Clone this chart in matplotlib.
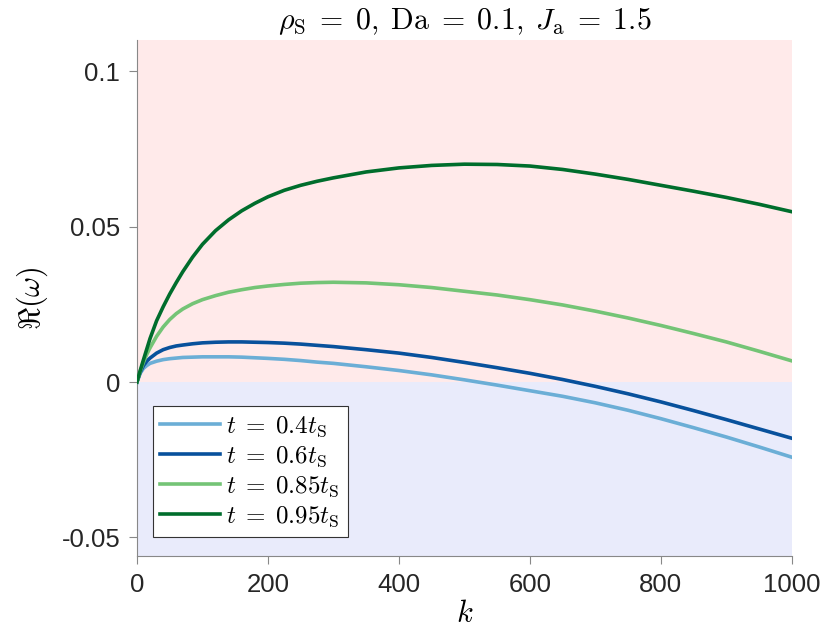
import numpy as np
import matplotlib
matplotlib.use('Agg')
import matplotlib.pyplot as plt

plt.rcParams['font.family'] = ['Liberation Sans', 'DejaVu Sans']
plt.rcParams['mathtext.fontset'] = 'cm'

k = [0, 5, 10, 15, 20, 30, 40, 50, 60, 70, 85, 100, 120, 140, 160, 180, 200,
     225, 250, 275, 300, 350, 400, 450, 500, 550, 600, 650, 700, 750, 800,
     850, 900, 950, 1000]

w_040 = [0, 0.0028, 0.0044, 0.0053, 0.0060, 0.0067, 0.0072, 0.0075, 0.0077, 0.0079,
         0.0080, 0.0081, 0.0081, 0.0081, 0.0080, 0.0078, 0.0076, 0.0073, 0.0069,
         0.0064, 0.0060, 0.0049, 0.0037, 0.0023, 0.0007, -0.0010, -0.0028,
         -0.0046, -0.0067, -0.0091, -0.0118, -0.0147, -0.0177, -0.0209, -0.0242]
w_060 = [0, 0.0031, 0.0053, 0.0067, 0.0077, 0.0093, 0.0104, 0.0111, 0.0116, 0.0119,
         0.0123, 0.0126, 0.0128, 0.0129, 0.0129, 0.0128, 0.0127, 0.0125, 0.0122,
         0.0118, 0.0114, 0.0104, 0.0093, 0.0079, 0.0063, 0.0046, 0.0028,
         0.0008, -0.0014, -0.0038, -0.0064, -0.0092, -0.0121, -0.0151, -0.0181]
w_085 = [0, 0.0035, 0.0064, 0.0089, 0.0110, 0.0147, 0.0177, 0.0201, 0.0220, 0.0235,
         0.0252, 0.0265, 0.0278, 0.0289, 0.0297, 0.0304, 0.0309, 0.0314, 0.0318,
         0.0320, 0.0321, 0.0319, 0.0313, 0.0304, 0.0292, 0.0280, 0.0265,
         0.0248, 0.0228, 0.0206, 0.0182, 0.0156, 0.0129, 0.0099, 0.0068]
w_095 = [0, 0.0037, 0.0072, 0.0106, 0.0140, 0.0197, 0.0242, 0.0283, 0.0320, 0.0355,
         0.0402, 0.0443, 0.0487, 0.0522, 0.0551, 0.0575, 0.0596, 0.0617, 0.0633,
         0.0646, 0.0657, 0.0676, 0.0689, 0.0697, 0.0701, 0.0700, 0.0695,
         0.0684, 0.0669, 0.0652, 0.0633, 0.0614, 0.0594, 0.0572, 0.0548]

labels = [r'$t\;=\;0.4t_\mathrm{S}$', r'$t\;=\;0.6t_\mathrm{S}$',
          r'$t\;=\;0.85t_\mathrm{S}$', r'$t\;=\;0.95t_\mathrm{S}$']
colors = ['#6baed6', '#08519c', '#74c476', '#006d2c']

yticks = [-0.05, 0, 0.05, 0.1]
ytick_labels = ['-0.05', '0', '0.05', '0.1']
xticks = [0, 200, 400, 600, 800, 1000]

fig = plt.figure(figsize=(8.3, 6.38), dpi=100)
ax = fig.add_axes([0.165, 0.1285, 0.789, 0.8085])

ymin, ymax = -0.056, 0.11
ax.axhspan(0, ymax, color='#ffeaea', lw=0, zorder=0)
ax.axhspan(ymin, 0, color='#e9ebfb', lw=0, zorder=0)

for w, lab, c in zip([w_040, w_060, w_085, w_095], labels, colors):
    ax.plot(k, w, color=c, lw=2.6, label=lab, zorder=3, solid_joinstyle='round')

ax.set_xlim(0, 1000)
ax.set_ylim(ymin, ymax)
ax.set_xticks(xticks)
ax.set_yticks(yticks)
ax.set_yticklabels(ytick_labels)

for s in ['top', 'right']:
    ax.spines[s].set_visible(False)
for s in ['left', 'bottom']:
    ax.spines[s].set_color('#888888')
    ax.spines[s].set_linewidth(0.8)
ax.tick_params(direction='out', length=6, width=0.8, color='#888888',
               labelsize=18.5, labelcolor='#262626', pad=6)

ax.set_xlabel(r'$k$', fontsize=22, labelpad=2)
ax.set_ylabel(r'$\Re(\omega)$', fontsize=22, labelpad=8)
ax.set_title(r'$\rho_\mathrm{S}\;=\;0,\;\mathrm{Da}\;=\;0.1,\;J_\mathrm{a}\;=\;1.5$',
             fontsize=21.5, pad=8)

leg = ax.legend(loc='lower left', bbox_to_anchor=(0.024, 0.037), fontsize=18,
                frameon=True, fancybox=False, edgecolor='#333333',
                handlelength=2.4, handletextpad=0.25, borderpad=0.3,
                labelspacing=0.2, borderaxespad=0)
leg.get_frame().set_linewidth(0.8)
leg.get_frame().set_alpha(1)

fig.savefig('out.png', dpi=100)
